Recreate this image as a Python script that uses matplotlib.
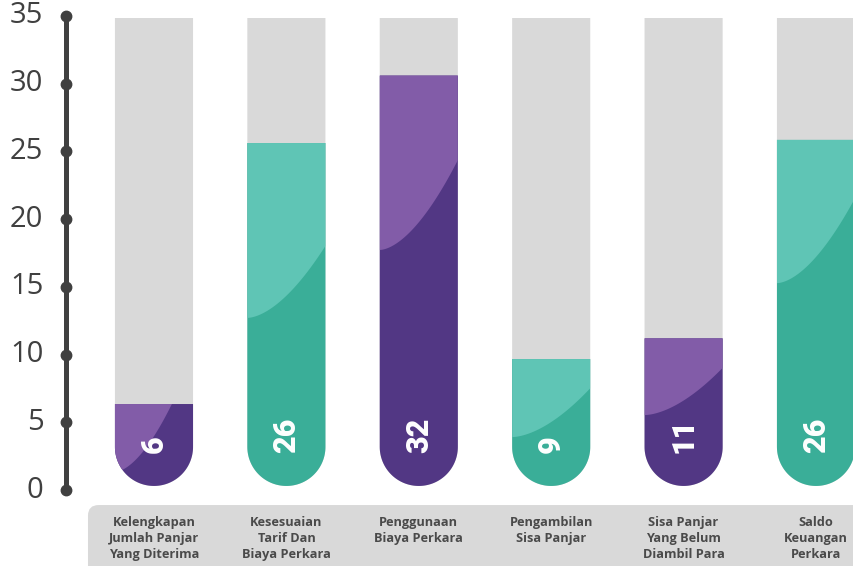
import numpy as np
import matplotlib.pyplot as plt
from matplotlib.patches import Polygon, FancyBboxPatch

categories = [
    "Kelengkapan\nJumlah Panjar\nYang Diterima",
    "Kesesuaian\nTarif Dan\nBiaya Perkara",
    "Penggunaan\nBiaya Perkara",
    "Pengambilan\nSisa Panjar",
    "Sisa Panjar\nYang Belum\nDiambil Para",
    "Saldo\nKeuangan\nPerkara",
]
values = [6, 26, 32, 9, 11, 26]
# fill level of each tube as drawn in the picture
fill_levels = [6.35, 25.62, 30.6, 9.67, 11.2, 25.85]
y_ticks = [0, 5, 10, 15, 20, 25, 30, 35]

# highlight edge (share of the fill height) at the left and right side of each tube
shine_lo = [0.17, 0.49, 0.575, 0.385, 0.48, 0.586]
shine_hi = [1.59, 0.70, 0.794, 0.77, 0.80, 0.832]

purple_dark, purple_light = "#523784", "#825ca8"
teal_dark, teal_light = "#3aae98", "#5fc5b5"
track_color = "#d9d9d9"
axis_color = "#404040"

fig = plt.figure(figsize=(8.54, 5.66), dpi=100)
ax = fig.add_axes([0, 0, 1, 1])
ax.set_xlim(-1.163, 5.287)
ax.set_ylim(-5.61, 36.18)
ax.axis("off")

# pixels per data unit, to keep the tube ends round
px_x = 854 / (5.287 + 1.163)
px_y = 566 / (36.18 + 5.61)

half_w = 0.295
base = 0.3
track_top = 34.85


def tube(xc, top):
    ry = half_w * px_x / px_y
    th = np.linspace(np.pi, 2 * np.pi, 80)
    xs = np.concatenate([[xc - half_w], xc + half_w * np.cos(th), [xc + half_w]])
    ys = np.concatenate([[top], base + ry + ry * np.sin(th), [top]])
    return np.column_stack([xs, ys])


for i, (val, lvl) in enumerate(zip(values, fill_levels)):
    dark = purple_dark if i % 2 == 0 else teal_dark
    light = purple_light if i % 2 == 0 else teal_light

    ax.add_patch(Polygon(tube(i, track_top), closed=True, fc=track_color, ec="none"))
    body = Polygon(tube(i, lvl), closed=True, fc=dark, ec="none")
    ax.add_patch(body)

    # lighter highlight in the upper left of the filled part
    h = lvl - base
    t = np.linspace(0, 1, 60)
    cx = i - half_w + t * 2 * half_w
    cy = base + shine_lo[i] * h + (shine_hi[i] - shine_lo[i]) * h * t ** 1.7
    shine = np.column_stack([
        np.concatenate([cx, [i + half_w, i - half_w]]),
        np.concatenate([cy, [lvl + 20, lvl + 20]]),
    ])
    sp = Polygon(shine, closed=True, fc=light, ec="none")
    ax.add_patch(sp)
    sp.set_clip_path(body)

    ax.text(i, 2.7, str(val), rotation=90, rotation_mode="anchor",
            ha="left", va="center", color="white", fontsize=22,
            fontweight="black", family="Roboto")

# y axis line with dots
axis_x = -0.665
ax.plot([axis_x, axis_x], [0, 35], color=axis_color, lw=3.6, solid_capstyle="butt")
ax.plot([axis_x] * len(y_ticks), y_ticks, "o", color=axis_color, ms=7.5)
for yt in y_ticks:
    ax.text(-0.835, yt, str(yt), ha="right", va="center", fontsize=21,
            color=axis_color, family="Open Sans")

# category labels panel
panel = FancyBboxPatch((-0.4985, -8), 7, 6.89,
                       boxstyle="round,pad=0,rounding_size=0.08",
                       mutation_aspect=px_x / px_y, fc=track_color, ec="none")
ax.add_patch(panel)
for i, cat in enumerate(categories):
    ax.text(i, -1.95, cat, ha="center", va="top", fontsize=9.2,
            fontweight="bold", color="#4a4a4a", family="Open Sans",
            linespacing=1.3)

fig.savefig("out.png", dpi=100)
